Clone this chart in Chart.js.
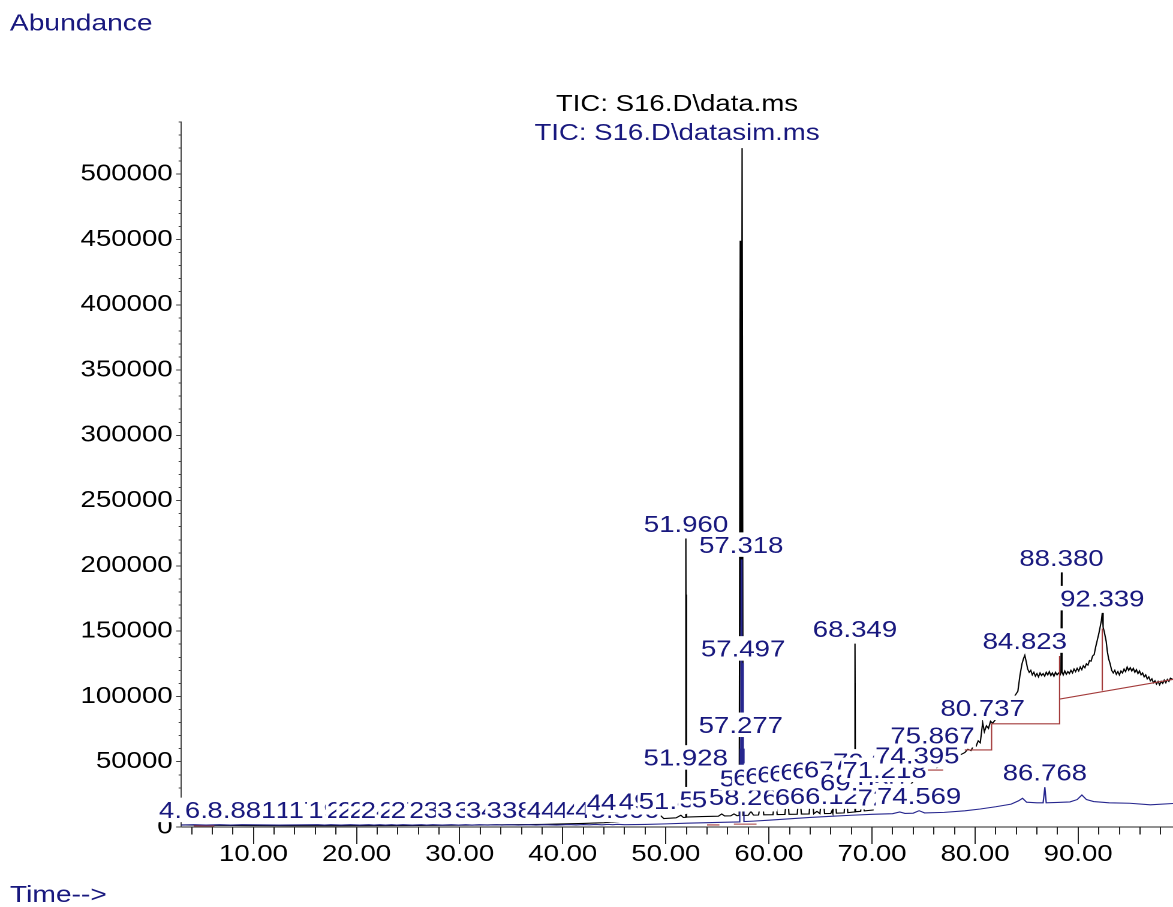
<!DOCTYPE html>
<html>
<head>
<meta charset="utf-8">
<script src="https://cdn.jsdelivr.net/npm/chart.js@4.4.1/dist/chart.umd.min.js"></script>
<style>
  html, body { margin: 0; padding: 0; background: #fff; overflow: hidden; }
  #wrap { position: absolute; left: 0; top: 0; width: 978px; height: 907px;
          transform: scaleX(1.19939); transform-origin: 0 0; }
  canvas { display: block; }
</style>
</head>
<body>
<div id="wrap"><canvas id="c" width="978" height="907" style="width:978px;height:907px"></canvas></div>
<script>
// ---- axis ticks ----
const timeMajor = [10, 20, 30, 40, 50, 60, 70, 80, 90];
const abundMajor = [0, 50000, 100000, 150000, 200000, 250000, 300000, 350000, 400000, 450000, 500000];

// ---- TIC: S16.D\data.ms  [time (min), abundance] ----
const ticTrace = [
  [3.00, 1600], [4.20, 1450], [6.00, 1300], [8.00, 1200], [10.00, 1100], [14.00, 1000],
  [18.00, 1000], [22.00, 1100], [26.00, 1200], [30.00, 1400], [34.00, 1650], [38.00, 2000],
  [42.00, 2700], [44.00, 3300], [46.00, 4500], [46.420, 7600], [46.70, 4800], [47.50, 5200],
  [47.810, 8000], [48.10, 5600], [49.20, 6200], [49.520, 8500], [49.80, 6500], [51.00, 7000],
  [51.460, 9000], [51.70, 7300], [51.90, 7400], [51.928, 42000], [51.960, 221000], [51.975, 60000],
  [51.990, 178000], [52.02, 7600], [53.50, 8000], [55.10, 8300], [55.420, 10000], [55.70, 8500],
  [56.30, 8600], [56.610, 10000], [56.90, 8700], [57.12, 8800], [57.22, 449000], [57.31, 40000],
  [57.40, 520000], [57.50, 8900], [58.00, 9000], [58.260, 12000],
  [58.50, 9100], [59.00, 9200], [59.310, 26000], [59.50, 9300], [60.40, 9400], [60.620, 27000],
  [60.80, 9500], [61.55, 9600], [61.780, 28000], [61.95, 9700], [62.75, 9800], [62.950, 29000],
  [63.15, 9900], [63.90, 10000], [64.120, 30000], [64.35, 10100], [64.660, 12000], [64.95, 10200],
  [65.200, 31000], [65.40, 10300], [66.000, 10400], [66.120, 12500], [66.20, 10500], [66.350, 32000],
  [66.55, 10600], [67.300, 10800], [67.480, 33000], [67.65, 11000], [68.300, 11500], [68.349, 140500],
  [68.40, 11700], [68.900, 12000], [69.050, 23000], [69.25, 12300], [70.100, 13000], [70.310, 39000],
  [70.50, 14000], [71.000, 15000], [71.218, 32500], [71.45, 16500], [72.500, 21000], [73.500, 30000],
  [74.200, 37000], [74.395, 43500], [74.600, 41000], [75.300, 44000], [75.867, 59000], [76.30, 45500],
  [77.00, 48000], [77.80, 52000], [78.50, 55000], [79.00, 57000], [79.30, 59500], [79.60, 58500],
  [79.90, 63000], [80.10, 62000], [80.30, 66000], [80.50, 64500], [80.737, 80000], [80.90, 73000],
  [81.10, 77500], [81.30, 75500], [81.50, 81000], [81.70, 79500], [82.00, 82500], [82.40, 84500],
  [82.80, 88000], [83.20, 92000], [83.60, 97000], [83.90, 101000], [84.15, 104000], [84.35, 116000],
  [84.55, 125000], [84.70, 129000], [84.823, 131500], [84.95, 127000], [85.10, 121000], [85.25, 118500],
  [85.40, 120000], [85.55, 116500], [85.70, 118500], [85.85, 115500], [86.00, 117500], [86.15, 115000],
  [86.30, 118000], [86.45, 116000], [86.60, 117500], [86.75, 115500], [86.90, 118500], [87.05, 116500],
  [87.20, 119000], [87.35, 116000], [87.50, 118000], [87.65, 115500], [87.80, 118500], [87.95, 116500],
  [88.10, 118000], [88.25, 116500], [88.330, 118000], [88.380, 195000], [88.43, 119000], [88.55, 116500],
  [88.70, 119500], [88.85, 117000], [89.00, 119000], [89.15, 117500], [89.30, 120000], [89.45, 118000],
  [89.60, 121000], [89.75, 119000], [89.90, 121500], [90.05, 119500], [90.20, 122500], [90.35, 120500],
  [90.50, 123500], [90.65, 122000], [90.80, 125000], [90.95, 124000], [91.10, 127500], [91.25, 127000],
  [91.40, 131000], [91.55, 132000], [91.70, 138000], [91.85, 143000], [92.00, 148000], [92.15, 154000],
  [92.25, 158000], [92.339, 164000], [92.42, 153000], [92.52, 150000], [92.62, 146000], [92.72, 142000],
  [92.82, 135000], [92.95, 129000], [93.10, 125000], [93.25, 120000], [93.40, 118000], [93.55, 120000],
  [93.70, 117000], [93.85, 119000], [94.00, 116500], [94.15, 119500], [94.30, 118000], [94.45, 121000],
  [94.60, 119000], [94.75, 122500], [94.90, 120000], [95.05, 122000], [95.20, 119500], [95.35, 121500],
  [95.50, 118500], [95.65, 120500], [95.80, 117500], [95.95, 119500], [96.10, 116500], [96.25, 118000],
  [96.40, 115000], [96.55, 116500], [96.70, 113500], [96.85, 115000], [97.00, 112000], [97.15, 113500],
  [97.30, 110500], [97.45, 112000], [97.60, 109500], [97.75, 111500], [97.90, 109000], [98.05, 111500],
  [98.20, 110000], [98.35, 112500], [98.50, 110500], [98.65, 113000], [98.80, 111500], [98.95, 114000],
  [99.20, 113000]
];

// ---- TIC: S16.D\datasim.ms  [time (min), abundance] ----
const simTrace = [
  [3.00, 1500], [4.180, 1800], [5.40, 1500], [6.700, 1800], [7.80, 1500], [8.881, 1800],
  [12.50, 1450], [16.250, 1750], [16.90, 1450], [17.500, 1750], [18.50, 1450], [19.400, 1750],
  [20.30, 1450], [21.200, 1750], [21.70, 1450], [22.250, 1750], [22.80, 1450], [23.400, 1750],
  [23.90, 1450], [24.500, 1750], [25.40, 1450], [26.300, 1750], [26.80, 1450], [27.400, 1750],
  [28.30, 1450], [29.200, 1750], [29.90, 1450], [30.600, 1750], [31.20, 1450], [31.900, 1750],
  [32.70, 1450], [33.600, 1750], [34.10, 1450], [34.700, 1750], [35.70, 1450], [36.700, 1750],
  [37.40, 1500], [38.200, 1800], [39.40, 1500], [40.600, 1850], [41.30, 1600], [42.000, 1900],
  [42.60, 1650], [43.200, 1950], [43.80, 1700], [44.400, 2000], [44.85, 1750], [45.300, 2050],
  [46.00, 1800], [48.00, 2000], [50.00, 2400], [52.00, 2900], [54.00, 3300], [56.00, 3700],
  [57.10, 3900], [57.15, 40000], [57.19, 8000], [57.23, 60000], [57.25, 15000], [57.277, 67000],
  [57.295, 20000], [57.318, 205000], [57.34, 30000], [57.37, 110000], [57.40, 40000], [57.43, 118000],
  [57.46, 50000], [57.497, 125500], [57.52, 30000], [57.55, 60000], [57.58, 4200], [58.50, 4500],
  [60.00, 5200], [62.00, 6300], [64.00, 7300], [66.00, 8200], [68.00, 9000], [70.00, 9700],
  [72.00, 10200], [72.690, 11500], [73.20, 10400], [74.00, 10600], [74.569, 12500], [75.10, 10800],
  [77.00, 11200], [79.00, 12400], [80.50, 13800], [82.00, 15500], [83.50, 17500], [84.20, 20000],
  [84.60, 22000], [85.00, 19000], [86.00, 18500], [86.60, 18500], [86.768, 30500], [86.90, 18500],
  [88.00, 18800], [89.20, 19200], [89.90, 21000], [90.36, 24500], [90.80, 21000], [91.50, 19500],
  [93.00, 18500], [95.00, 18200], [97.00, 17000], [99.20, 18000]
];

// ---- labelled retention times ----
const ticLabelRT = [46.420, 47.810, 49.520, 51.460, 51.928, 51.960, 55.420, 56.610, 58.260,
  59.310, 60.620, 61.780, 62.950, 64.120, 64.660, 65.200, 66.120, 66.350, 67.480, 68.349,
  69.050, 70.310, 71.218, 74.395, 75.867, 80.737, 84.823, 88.380, 92.339];
const simLabelRT = [4.180, 6.700, 8.881, 16.250, 17.500, 19.400, 21.200, 22.250, 23.400,
  24.500, 26.300, 27.400, 29.200, 30.600, 31.900, 33.600, 34.700, 36.700, 38.200, 40.600,
  42.000, 43.200, 44.400, 45.300, 57.277, 57.318, 57.497, 72.690, 74.569, 86.768];

// ---- integration baselines (segments of [time, abundance]) ----
const baselineSegs = [
  [[74.60, 43600], [76.90, 43600]],
  [[79.00, 59000], [81.60, 59000], [81.60, 79000], [88.20, 79000], [88.20, 98000], [99.20, 113000]],
  [[88.20, 79000], [88.20, 131000]],
  [[92.339, 104500], [92.339, 152000]],
  [[56.60, 2200], [58.80, 2200]],
  [[54.00, 1600], [55.20, 1600]],
  [[4.20, 900], [6.20, 900]]
];

const NAVY = '#18187e';
const FONT = '"Liberation Sans", Arial, sans-serif';

function toPoints(tr) { return tr.map(p => ({ x: p[0], y: p[1] })); }
function apexOf(tr, rt) { const p = tr.find(q => q[0] === rt); return p ? p[1] : 0; }
function segPoints(segs) {
  const out = [];
  segs.forEach(s => { s.forEach(p => out.push({ x: p[0], y: p[1] })); out.push({ x: s[s.length - 1][0], y: null }); });
  return out;
}

// peak labels (white boxed, later retention times drawn over earlier ones) and headers
const annotate = {
  id: 'annotate',
  afterDatasetsDraw(chart) {
    const { ctx, scales: { x, y }, chartArea } = chart;
    ctx.save();
    const items = [];
    ticLabelRT.forEach(rt => items.push({ rt, ab: apexOf(ticTrace, rt) }));
    simLabelRT.forEach(rt => items.push({ rt, ab: apexOf(simTrace, rt) }));
    items.sort((a, b) => a.rt - b.rt);
    ctx.font = '23px ' + FONT;
    ctx.textAlign = 'center';
    ctx.textBaseline = 'alphabetic';
    for (const it of items) {
      const text = it.rt.toFixed(3);
      const cx = x.getPixelForValue(it.rt);
      const base = y.getPixelForValue(it.ab) - 6.5;
      const w = ctx.measureText(text).width;
      ctx.fillStyle = '#fff';
      ctx.fillRect(cx - w / 2 - 1, base - 20.5, w + 2, 24.5);
      ctx.fillStyle = NAVY;
      ctx.fillText(text, cx, base);
    }
    const mid = (chartArea.left + chartArea.right) / 2;
    ctx.font = '23px ' + FONT;
    ctx.fillStyle = '#000';
    ctx.fillText('TIC: S16.D\\data.ms', mid, 111);
    ctx.fillStyle = NAVY;
    ctx.fillText('TIC: S16.D\\datasim.ms', mid, 140);
    ctx.textAlign = 'left';
    ctx.font = '23.5px ' + FONT;
    ctx.fillText('Abundance', 8.3, 30.5);
    ctx.fillText('Time-->', 8.3, 902);
    ctx.restore();
  }
};

const isMajorX = v => timeMajor.includes(v);
const isMajorY = v => abundMajor.includes(v);

new Chart(document.getElementById('c'), {
  type: 'line',
  data: {
    datasets: [
      { data: toPoints(simTrace), borderColor: '#26268e', borderWidth: 1.1 },
      { data: segPoints(baselineSegs), borderColor: '#a33b3b', borderWidth: 1.1, spanGaps: false },
      { data: toPoints(ticTrace), borderColor: '#000', borderWidth: 1.1 }
    ]
  },
  options: {
    responsive: false,
    devicePixelRatio: 2,
    animation: false,
    events: [],
    elements: { point: { radius: 0 }, line: { tension: 0 } },
    layout: { padding: { top: 122, left: 0, right: 0, bottom: 0 } },
    plugins: { legend: { display: false }, tooltip: { enabled: false }, title: { display: false } },
    scales: {
      x: {
        type: 'linear', min: 2.97, max: 99.2,
        afterFit: s => { s.height = 80; },
        border: { display: true, color: '#222', width: 1 },
        grid: {
          drawOnChartArea: false, drawTicks: true, tickLength: 17, tickColor: '#222', tickWidth: 1,
          tickBorderDash: c => isMajorX(c.tick.value) ? [] : [7, 100]
        },
        ticks: {
          stepSize: 2, includeBounds: false, autoSkip: false, maxRotation: 0, padding: -3,
          color: '#000', font: { family: FONT, size: 23 },
          callback: v => isMajorX(v) ? v.toFixed(2) : ''
        }
      },
      y: {
        type: 'linear', min: 0, max: 540000,
        afterFit: s => { s.width = 150.9; },
        border: { display: true, color: '#444', width: 1 },
        grid: {
          drawOnChartArea: false, drawTicks: true, tickLength: 4, tickColor: '#444', tickWidth: 1,
          tickBorderDash: c => isMajorY(c.tick.value) ? [] : [0, 2, 2, 100]
        },
        ticks: {
          stepSize: 10000, includeBounds: false, autoSkip: false, padding: 3,
          color: '#000', font: { family: FONT, size: 23 },
          callback: v => isMajorY(v) ? String(v) : ''
        }
      }
    }
  },
  plugins: [annotate]
});
</script>
</body>
</html>
